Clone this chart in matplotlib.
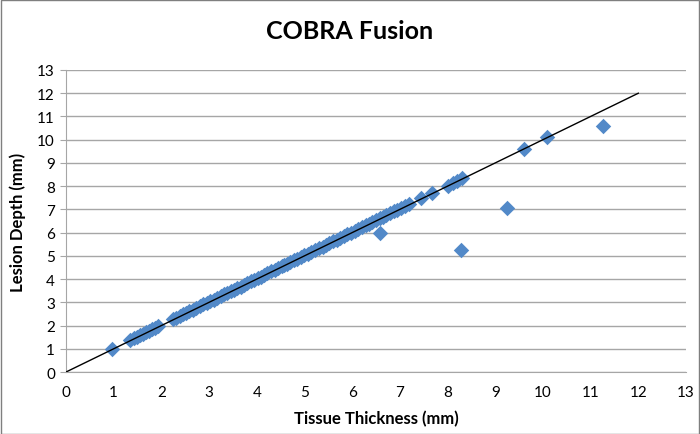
import matplotlib
matplotlib.use("Agg")
import matplotlib.pyplot as plt
from matplotlib.patches import Rectangle

plt.rcParams['font.family'] = ['Lato', 'DejaVu Sans']

# tissue thickness vs lesion depth (mm)
thickness = [0.97, 1.35, 1.42, 1.48, 1.55, 1.61, 1.68, 1.74, 1.80, 1.86, 1.93,
             2.25, 2.31, 2.38, 2.45, 2.52, 2.58, 2.66, 2.73, 2.80, 2.88, 2.95,
             3.02, 3.10, 3.17, 3.24, 3.31, 3.38, 3.45, 3.52, 3.59, 3.66, 3.73,
             3.80, 3.88, 3.95, 4.02, 4.08, 4.15, 4.22, 4.30, 4.38, 4.45, 4.52,
             4.58, 4.64, 4.70, 4.78, 4.85, 4.92, 5.00, 5.07, 5.14, 5.22, 5.30,
             5.38, 5.45, 5.52, 5.60, 5.68, 5.75, 5.82, 5.90, 5.97, 6.05, 6.12,
             6.20, 6.28, 6.35, 6.42, 6.50, 6.58, 6.65, 6.72, 6.80, 6.88, 6.95,
             7.02, 7.10, 7.20, 7.45, 7.68, 8.00, 8.12, 8.20, 8.30,
             6.58, 8.28, 9.25, 9.60, 10.08, 11.25]
depth = [0.97, 1.37, 1.45, 1.50, 1.58, 1.63, 1.71, 1.76, 1.83, 1.88, 1.96,
         2.27, 2.34, 2.40, 2.48, 2.54, 2.61, 2.68, 2.76, 2.82, 2.91, 2.97,
         3.05, 3.12, 3.20, 3.26, 3.34, 3.40, 3.48, 3.55, 3.62, 3.68, 3.76,
         3.82, 3.91, 3.97, 4.05, 4.10, 4.18, 4.25, 4.33, 4.40, 4.48, 4.55,
         4.62, 4.67, 4.74, 4.80, 4.88, 4.95, 5.03, 5.09, 5.17, 5.24, 5.33,
         5.40, 5.48, 5.55, 5.63, 5.70, 5.78, 5.85, 5.93, 6.00, 6.08, 6.15,
         6.24, 6.31, 6.39, 6.45, 6.54, 6.61, 6.69, 6.75, 6.84, 6.91, 6.99,
         7.05, 7.14, 7.23, 7.48, 7.70, 8.02, 8.15, 8.23, 8.33,
         6.00, 5.27, 7.07, 9.62, 10.12, 10.58]
line_x = [0, 12]
line_y = [0, 12]

fig = plt.figure(figsize=(7, 4.35), dpi=100)
ax = fig.add_axes([0.0943, 0.1425, 0.8857, 0.6943])

ax.scatter(thickness, depth, marker='D', s=62, color='#5289C8',
           linewidths=0, zorder=3, clip_on=False)
ax.plot(line_x, line_y, color='black', lw=1, zorder=4)

ax.set_xlim(0, 13)
ax.set_ylim(0, 13)
ax.set_xticks(range(14))
ax.set_yticks(range(14))
ax.grid(axis='y', color='#A6A6A6', lw=1)
ax.set_axisbelow(True)
for s in ['top', 'right']:
    ax.spines[s].set_visible(False)
for s in ['left', 'bottom']:
    ax.spines[s].set_color('#A6A6A6')
ax.tick_params(axis='x', length=0, labelsize=11, pad=9)
ax.tick_params(axis='y', length=4, color='#A6A6A6', labelsize=11, pad=4)

ax.set_xlabel('Tissue Thickness (mm)', fontsize=12, fontweight='bold', labelpad=8)
ax.set_ylabel('Lesion Depth (mm)', fontsize=12, fontweight='bold', labelpad=8)
fig.suptitle('COBRA Fusion', fontsize=18, fontweight='bold', y=0.955)

fig.patches.append(Rectangle((0.001, 0.001), 0.998, 0.996, transform=fig.transFigure,
                             fill=False, edgecolor='#7F7F7F', lw=1))

fig.savefig('out.png', dpi=100)
